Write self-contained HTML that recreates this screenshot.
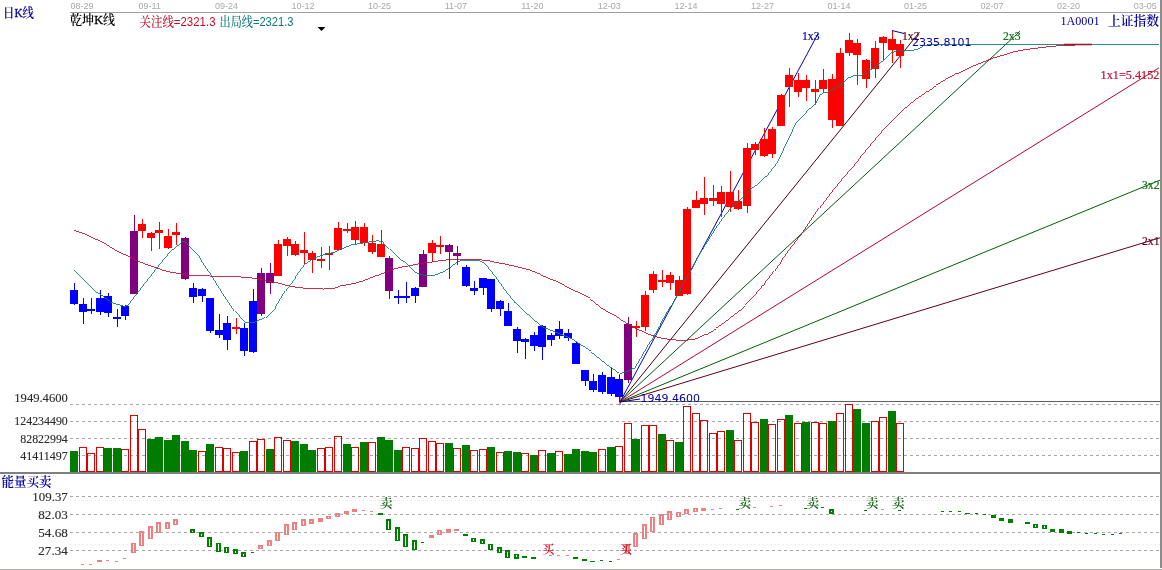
<!DOCTYPE html>
<html lang="zh"><head><meta charset="utf-8"><title>日K线 上证指数</title>
<style>
html,body{margin:0;padding:0;background:#fff;}
body{width:1162px;height:570px;overflow:hidden;position:relative;}
svg{position:absolute;left:0;top:0;display:block;}
.song{font-family:"Liberation Serif","Noto Serif CJK SC",serif;}
.ax{font-family:"Liberation Serif","Noto Serif CJK SC",serif;font-size:12px;fill:#2a2a2a;stroke:#2a2a2a;stroke-width:0.12px;}
.dt{font-family:"Liberation Sans",sans-serif;font-size:9px;fill:#a8a8a8;}
.vd{font-family:"DejaVu Sans","Liberation Sans",sans-serif;font-size:11px;}
.crisp{shape-rendering:crispEdges;}
</style></head><body>
<svg width="1162" height="570" viewBox="0 0 1162 570">

<g class="crisp">
<rect x="70" y="12" width="1090" height="1" fill="#a0a0a0"/>
<rect x="1160" y="0" width="2" height="568" fill="#8c8c8c"/>
<rect x="0" y="472" width="1160" height="2" fill="#808080"/>
<rect x="0" y="569" width="1162" height="1" fill="#b0b0ac"/>
</g>
<g class="crisp" stroke="#a8a8a8" stroke-width="1" stroke-dasharray="3,3">
<line x1="70" y1="404.5" x2="1160" y2="404.5"/>
<line x1="70" y1="421.5" x2="1160" y2="421.5"/>
<line x1="70" y1="438.5" x2="1160" y2="438.5"/>
<line x1="70" y1="455.5" x2="1160" y2="455.5"/>
<line x1="70" y1="496.5" x2="1160" y2="496.5"/>
<line x1="70" y1="514.5" x2="1160" y2="514.5"/>
<line x1="70" y1="532.5" x2="1160" y2="532.5"/>
<line x1="70" y1="550.5" x2="1160" y2="550.5"/>
</g>
<g class="crisp" stroke="#efefef" stroke-width="1" stroke-dasharray="2,2">
<line x1="70" y1="450.5" x2="1160" y2="450.5"/>
<line x1="70" y1="500.5" x2="1160" y2="500.5"/>
<line x1="70" y1="544.5" x2="1160" y2="544.5"/>
</g>
<g class="crisp">
<rect x="70" y="451.0" width="8" height="21.0" fill="#007c00"/>
<rect x="79.5" y="447.5" width="7" height="24.0" fill="none" stroke="#dc0000" stroke-width="1"/>
<rect x="87.5" y="453.5" width="7" height="18.0" fill="none" stroke="#dc0000" stroke-width="1"/>
<rect x="96.5" y="447.5" width="7" height="24.0" fill="none" stroke="#dc0000" stroke-width="1"/>
<rect x="104" y="448.0" width="8" height="24.0" fill="#007c00"/>
<rect x="113" y="448.0" width="8" height="24.0" fill="#007c00"/>
<rect x="121.5" y="449.5" width="7" height="22.0" fill="none" stroke="#dc0000" stroke-width="1"/>
<rect x="130.5" y="415.5" width="7" height="56.0" fill="none" stroke="#dc0000" stroke-width="1"/>
<rect x="138.5" y="429.5" width="7" height="42.0" fill="none" stroke="#dc0000" stroke-width="1"/>
<rect x="147" y="439.0" width="8" height="33.0" fill="#007c00"/>
<rect x="155" y="437.0" width="8" height="35.0" fill="#007c00"/>
<rect x="164" y="439.5" width="8" height="32.5" fill="#007c00"/>
<rect x="172" y="435.0" width="8" height="37.0" fill="#007c00"/>
<rect x="181" y="441.0" width="8" height="31.0" fill="#007c00"/>
<rect x="189" y="450.0" width="8" height="22.0" fill="#007c00"/>
<rect x="198.5" y="451.5" width="7" height="20.0" fill="none" stroke="#dc0000" stroke-width="1"/>
<rect x="206" y="444.0" width="8" height="28.0" fill="#007c00"/>
<rect x="215.5" y="447.5" width="7" height="24.0" fill="none" stroke="#dc0000" stroke-width="1"/>
<rect x="223.5" y="448.8" width="7" height="22.7" fill="none" stroke="#dc0000" stroke-width="1"/>
<rect x="232.5" y="452.5" width="7" height="19.0" fill="none" stroke="#dc0000" stroke-width="1"/>
<rect x="240" y="451.0" width="8" height="21.0" fill="#007c00"/>
<rect x="249.5" y="441.5" width="7" height="30.0" fill="none" stroke="#dc0000" stroke-width="1"/>
<rect x="257.5" y="439.5" width="7" height="32.0" fill="none" stroke="#dc0000" stroke-width="1"/>
<rect x="266" y="449.0" width="8" height="23.0" fill="#007c00"/>
<rect x="274.5" y="437.5" width="7" height="34.0" fill="none" stroke="#dc0000" stroke-width="1"/>
<rect x="283.5" y="440.5" width="7" height="31.0" fill="none" stroke="#dc0000" stroke-width="1"/>
<rect x="291" y="441.0" width="8" height="31.0" fill="#007c00"/>
<rect x="300" y="444.0" width="8" height="28.0" fill="#007c00"/>
<rect x="308" y="450.0" width="8" height="22.0" fill="#007c00"/>
<rect x="317.5" y="448.8" width="7" height="22.7" fill="none" stroke="#dc0000" stroke-width="1"/>
<rect x="325.5" y="447.5" width="7" height="24.0" fill="none" stroke="#dc0000" stroke-width="1"/>
<rect x="334.5" y="436.5" width="7" height="35.0" fill="none" stroke="#dc0000" stroke-width="1"/>
<rect x="343" y="444.0" width="8" height="28.0" fill="#007c00"/>
<rect x="351.5" y="447.5" width="7" height="24.0" fill="none" stroke="#dc0000" stroke-width="1"/>
<rect x="360" y="442.0" width="8" height="30.0" fill="#007c00"/>
<rect x="368.5" y="442.5" width="7" height="29.0" fill="none" stroke="#dc0000" stroke-width="1"/>
<rect x="377" y="437.0" width="8" height="35.0" fill="#007c00"/>
<rect x="385" y="440.0" width="8" height="32.0" fill="#007c00"/>
<rect x="394" y="450.0" width="8" height="22.0" fill="#007c00"/>
<rect x="402.5" y="447.5" width="7" height="24.0" fill="none" stroke="#dc0000" stroke-width="1"/>
<rect x="411.5" y="448.5" width="7" height="23.0" fill="none" stroke="#dc0000" stroke-width="1"/>
<rect x="419.5" y="438.5" width="7" height="33.0" fill="none" stroke="#dc0000" stroke-width="1"/>
<rect x="428.5" y="441.5" width="7" height="30.0" fill="none" stroke="#dc0000" stroke-width="1"/>
<rect x="436.5" y="443.5" width="7" height="28.0" fill="none" stroke="#dc0000" stroke-width="1"/>
<rect x="445" y="443.0" width="8" height="29.0" fill="#007c00"/>
<rect x="453.5" y="448.5" width="7" height="23.0" fill="none" stroke="#dc0000" stroke-width="1"/>
<rect x="462" y="445.0" width="8" height="27.0" fill="#007c00"/>
<rect x="470.5" y="450.5" width="7" height="21.0" fill="none" stroke="#dc0000" stroke-width="1"/>
<rect x="479.5" y="449.5" width="7" height="22.0" fill="none" stroke="#dc0000" stroke-width="1"/>
<rect x="487" y="447.0" width="8" height="25.0" fill="#007c00"/>
<rect x="496.5" y="452.5" width="7" height="19.0" fill="none" stroke="#dc0000" stroke-width="1"/>
<rect x="504" y="451.0" width="8" height="21.0" fill="#007c00"/>
<rect x="513" y="452.0" width="8" height="20.0" fill="#007c00"/>
<rect x="521.5" y="453.5" width="7" height="18.0" fill="none" stroke="#dc0000" stroke-width="1"/>
<rect x="530" y="455.0" width="8" height="17.0" fill="#007c00"/>
<rect x="538.5" y="450.5" width="7" height="21.0" fill="none" stroke="#dc0000" stroke-width="1"/>
<rect x="547" y="453.0" width="8" height="19.0" fill="#007c00"/>
<rect x="555.5" y="451.5" width="7" height="20.0" fill="none" stroke="#dc0000" stroke-width="1"/>
<rect x="564" y="454.0" width="8" height="18.0" fill="#007c00"/>
<rect x="572" y="449.0" width="8" height="23.0" fill="#007c00"/>
<rect x="581" y="451.0" width="8" height="21.0" fill="#007c00"/>
<rect x="589" y="452.0" width="8" height="20.0" fill="#007c00"/>
<rect x="598.5" y="449.5" width="7" height="22.0" fill="none" stroke="#dc0000" stroke-width="1"/>
<rect x="607" y="447.0" width="8" height="25.0" fill="#007c00"/>
<rect x="615.5" y="446.5" width="7" height="25.0" fill="none" stroke="#dc0000" stroke-width="1"/>
<rect x="624.5" y="423.5" width="7" height="48.0" fill="none" stroke="#dc0000" stroke-width="1"/>
<rect x="632" y="439.0" width="8" height="33.0" fill="#007c00"/>
<rect x="641.5" y="425.5" width="7" height="46.0" fill="none" stroke="#dc0000" stroke-width="1"/>
<rect x="649.5" y="425.5" width="7" height="46.0" fill="none" stroke="#dc0000" stroke-width="1"/>
<rect x="658" y="434.0" width="8" height="38.0" fill="#007c00"/>
<rect x="666.5" y="440.5" width="7" height="31.0" fill="none" stroke="#dc0000" stroke-width="1"/>
<rect x="675" y="442.0" width="8" height="30.0" fill="#007c00"/>
<rect x="683.5" y="406.5" width="7" height="65.0" fill="none" stroke="#dc0000" stroke-width="1"/>
<rect x="692.5" y="413.5" width="7" height="58.0" fill="none" stroke="#dc0000" stroke-width="1"/>
<rect x="700.5" y="420.5" width="7" height="51.0" fill="none" stroke="#dc0000" stroke-width="1"/>
<rect x="709.5" y="433.5" width="7" height="38.0" fill="none" stroke="#dc0000" stroke-width="1"/>
<rect x="717.5" y="431.5" width="7" height="40.0" fill="none" stroke="#dc0000" stroke-width="1"/>
<rect x="726" y="430.0" width="8" height="42.0" fill="#007c00"/>
<rect x="734.5" y="440.5" width="7" height="31.0" fill="none" stroke="#dc0000" stroke-width="1"/>
<rect x="743.5" y="413.5" width="7" height="58.0" fill="none" stroke="#dc0000" stroke-width="1"/>
<rect x="751.5" y="422.5" width="7" height="49.0" fill="none" stroke="#dc0000" stroke-width="1"/>
<rect x="760" y="419.0" width="8" height="53.0" fill="#007c00"/>
<rect x="768.5" y="424.5" width="7" height="47.0" fill="none" stroke="#dc0000" stroke-width="1"/>
<rect x="777.5" y="419.5" width="7" height="52.0" fill="none" stroke="#dc0000" stroke-width="1"/>
<rect x="785" y="415.0" width="8" height="57.0" fill="#007c00"/>
<rect x="794.5" y="423.5" width="7" height="48.0" fill="none" stroke="#dc0000" stroke-width="1"/>
<rect x="802" y="422.0" width="8" height="50.0" fill="#007c00"/>
<rect x="811.5" y="422.5" width="7" height="49.0" fill="none" stroke="#dc0000" stroke-width="1"/>
<rect x="819.5" y="423.5" width="7" height="48.0" fill="none" stroke="#dc0000" stroke-width="1"/>
<rect x="828" y="421.0" width="8" height="51.0" fill="#007c00"/>
<rect x="836.5" y="413.5" width="7" height="58.0" fill="none" stroke="#dc0000" stroke-width="1"/>
<rect x="845.5" y="404.5" width="7" height="67.0" fill="none" stroke="#dc0000" stroke-width="1"/>
<rect x="853" y="409.0" width="8" height="63.0" fill="#007c00"/>
<rect x="862" y="423.0" width="8" height="49.0" fill="#007c00"/>
<rect x="871.5" y="421.5" width="7" height="50.0" fill="none" stroke="#dc0000" stroke-width="1"/>
<rect x="879.5" y="417.5" width="7" height="54.0" fill="none" stroke="#dc0000" stroke-width="1"/>
<rect x="888" y="411.0" width="8" height="61.0" fill="#007c00"/>
<rect x="896.5" y="423.5" width="7" height="48.0" fill="none" stroke="#dc0000" stroke-width="1"/>
</g>
<g class="crisp">
<rect x="81" y="564.4" width="3" height="1" fill="#f08080"/>
<rect x="89" y="563.6" width="3" height="1" fill="#f08080"/>
<rect x="97" y="560.4" width="5" height="2.0" fill="#f08080"/>
<rect x="106" y="560.4" width="3" height="1" fill="#f08080"/>
<rect x="115" y="561.0" width="3" height="1" fill="#f08080"/>
<rect x="123" y="558.1" width="3" height="1" fill="#f08080"/>
<rect x="131" y="543.1" width="5" height="10.0" fill="#f08080"/>
<rect x="133" y="544.4" width="1" height="7.4" fill="#fff"/>
<rect x="139" y="531.2" width="5" height="14.9" fill="#f08080"/>
<rect x="141" y="532.5" width="1" height="12.3" fill="#fff"/>
<rect x="148" y="526.2" width="5" height="13.0" fill="#f08080"/>
<rect x="150" y="527.5" width="1" height="10.4" fill="#fff"/>
<rect x="156" y="522.4" width="5" height="10.8" fill="#f08080"/>
<rect x="158" y="523.7" width="1" height="8.2" fill="#fff"/>
<rect x="165" y="522.4" width="5" height="7.0" fill="#f08080"/>
<rect x="167" y="523.7" width="1" height="4.4" fill="#fff"/>
<rect x="173" y="519.4" width="5" height="6.0" fill="#f08080"/>
<rect x="175" y="520.7" width="1" height="3.4" fill="#fff"/>
<rect x="190" y="529.2" width="5" height="4.0" fill="#008000"/>
<rect x="192" y="530.5" width="1" height="1.4" fill="#fff"/>
<rect x="199" y="532.4" width="5" height="5.0" fill="#008000"/>
<rect x="201" y="533.7" width="1" height="2.4" fill="#fff"/>
<rect x="207" y="537.4" width="5" height="10.0" fill="#008000"/>
<rect x="209" y="538.7" width="1" height="7.4" fill="#fff"/>
<rect x="216" y="543.1" width="5" height="8.8" fill="#008000"/>
<rect x="218" y="544.4" width="1" height="6.2" fill="#fff"/>
<rect x="224" y="546.6" width="5" height="6.5" fill="#008000"/>
<rect x="226" y="547.9" width="1" height="3.9" fill="#fff"/>
<rect x="233" y="549.4" width="5" height="5.0" fill="#008000"/>
<rect x="235" y="550.7" width="1" height="2.4" fill="#fff"/>
<rect x="241" y="552.4" width="5" height="5.0" fill="#008000"/>
<rect x="243" y="553.7" width="1" height="2.4" fill="#fff"/>
<rect x="251" y="551.6" width="3" height="1" fill="#008000"/>
<rect x="258" y="545.4" width="5" height="4.0" fill="#f08080"/>
<rect x="260" y="546.7" width="1" height="1.4" fill="#fff"/>
<rect x="267" y="540.4" width="5" height="5.7" fill="#f08080"/>
<rect x="269" y="541.7" width="1" height="3.1" fill="#fff"/>
<rect x="275" y="531.7" width="5" height="9.4" fill="#f08080"/>
<rect x="277" y="533.0" width="1" height="6.8" fill="#fff"/>
<rect x="284" y="524.4" width="5" height="10.5" fill="#f08080"/>
<rect x="286" y="525.7" width="1" height="7.9" fill="#fff"/>
<rect x="292" y="522.4" width="5" height="8.0" fill="#f08080"/>
<rect x="294" y="523.7" width="1" height="5.4" fill="#fff"/>
<rect x="301" y="519.4" width="5" height="6.8" fill="#f08080"/>
<rect x="303" y="520.7" width="1" height="4.2" fill="#fff"/>
<rect x="309" y="519.4" width="5" height="4.3" fill="#f08080"/>
<rect x="311" y="520.7" width="1" height="1.7" fill="#fff"/>
<rect x="318" y="518.2" width="5" height="3.5" fill="#f08080"/>
<rect x="326" y="515.7" width="5" height="3.7" fill="#f08080"/>
<rect x="328" y="517.0" width="1" height="1.1" fill="#fff"/>
<rect x="335" y="513.2" width="5" height="4.2" fill="#f08080"/>
<rect x="337" y="514.5" width="1" height="1.6" fill="#fff"/>
<rect x="344" y="511.2" width="5" height="3.2" fill="#f08080"/>
<rect x="352" y="509.2" width="5" height="2.8" fill="#f08080"/>
<rect x="362" y="510.0" width="3" height="1" fill="#f08080"/>
<rect x="370" y="510.6" width="3" height="1" fill="#f08080"/>
<rect x="378" y="513.2" width="5" height="1.8" fill="#008000"/>
<rect x="386" y="519.4" width="5" height="11.0" fill="#008000"/>
<rect x="388" y="520.7" width="1" height="8.4" fill="#fff"/>
<rect x="395" y="527.4" width="5" height="13.8" fill="#008000"/>
<rect x="397" y="528.7" width="1" height="11.2" fill="#fff"/>
<rect x="403" y="534.2" width="5" height="13.2" fill="#008000"/>
<rect x="405" y="535.5" width="1" height="10.6" fill="#fff"/>
<rect x="412" y="540.4" width="5" height="10.0" fill="#008000"/>
<rect x="414" y="541.7" width="1" height="7.4" fill="#fff"/>
<rect x="421" y="542.0" width="3" height="1" fill="#008000"/>
<rect x="429" y="534.9" width="5" height="3.3" fill="#f08080"/>
<rect x="437" y="529.9" width="5" height="5.0" fill="#f08080"/>
<rect x="439" y="531.2" width="1" height="2.4" fill="#fff"/>
<rect x="446" y="529.4" width="5" height="3.5" fill="#f08080"/>
<rect x="454" y="529.4" width="5" height="1.8" fill="#f08080"/>
<rect x="463" y="534.4" width="5" height="1.8" fill="#008000"/>
<rect x="471" y="537.9" width="5" height="4.5" fill="#008000"/>
<rect x="473" y="539.2" width="1" height="1.9" fill="#fff"/>
<rect x="480" y="539.4" width="5" height="5.0" fill="#008000"/>
<rect x="482" y="540.7" width="1" height="2.4" fill="#fff"/>
<rect x="488" y="543.6" width="5" height="6.8" fill="#008000"/>
<rect x="490" y="544.9" width="1" height="4.2" fill="#fff"/>
<rect x="497" y="547.4" width="5" height="5.5" fill="#008000"/>
<rect x="499" y="548.7" width="1" height="2.9" fill="#fff"/>
<rect x="505" y="550.4" width="5" height="7.5" fill="#008000"/>
<rect x="507" y="551.7" width="1" height="4.9" fill="#fff"/>
<rect x="514" y="553.6" width="5" height="5.0" fill="#008000"/>
<rect x="516" y="554.9" width="1" height="2.4" fill="#fff"/>
<rect x="522" y="555.6" width="5" height="2.3" fill="#008000"/>
<rect x="531" y="556.6" width="5" height="2.0" fill="#008000"/>
<rect x="549" y="555.4" width="3" height="1" fill="#f08080"/>
<rect x="557" y="555.2" width="3" height="1" fill="#f08080"/>
<rect x="566" y="555.2" width="3" height="1" fill="#f08080"/>
<rect x="573" y="557.4" width="5" height="1.6" fill="#008000"/>
<rect x="582" y="558.6" width="5" height="2.0" fill="#008000"/>
<rect x="590" y="560.6" width="5" height="1.8" fill="#008000"/>
<rect x="600" y="559.6" width="3" height="1" fill="#008000"/>
<rect x="609" y="561.4" width="3" height="1" fill="#008000"/>
<rect x="617" y="559.4" width="3" height="1" fill="#f08080"/>
<rect x="625" y="544.4" width="5" height="10.0" fill="#f08080"/>
<rect x="627" y="545.7" width="1" height="7.4" fill="#fff"/>
<rect x="633" y="533.2" width="5" height="14.2" fill="#f08080"/>
<rect x="635" y="534.5" width="1" height="11.6" fill="#fff"/>
<rect x="642" y="524.4" width="5" height="14.8" fill="#f08080"/>
<rect x="644" y="525.7" width="1" height="12.2" fill="#fff"/>
<rect x="650" y="517.0" width="5" height="15.4" fill="#f08080"/>
<rect x="652" y="518.3" width="1" height="12.8" fill="#fff"/>
<rect x="659" y="514.4" width="5" height="11.0" fill="#f08080"/>
<rect x="661" y="515.7" width="1" height="8.4" fill="#fff"/>
<rect x="667" y="511.4" width="5" height="9.0" fill="#f08080"/>
<rect x="669" y="512.7" width="1" height="6.4" fill="#fff"/>
<rect x="676" y="512.0" width="5" height="5.4" fill="#f08080"/>
<rect x="678" y="513.3" width="1" height="2.8" fill="#fff"/>
<rect x="684" y="509.2" width="5" height="5.2" fill="#f08080"/>
<rect x="686" y="510.5" width="1" height="2.6" fill="#fff"/>
<rect x="693" y="508.0" width="5" height="4.4" fill="#f08080"/>
<rect x="695" y="509.3" width="1" height="1.8" fill="#fff"/>
<rect x="701" y="508.4" width="5" height="2.3" fill="#f08080"/>
<rect x="711" y="508.8" width="3" height="1" fill="#f08080"/>
<rect x="719" y="508.0" width="3" height="1" fill="#f08080"/>
<rect x="736" y="508.8" width="3" height="1" fill="#008000"/>
<rect x="753" y="506.8" width="3" height="1" fill="#f08080"/>
<rect x="770" y="505.5" width="3" height="1" fill="#f08080"/>
<rect x="779" y="505.3" width="3" height="1" fill="#f08080"/>
<rect x="804" y="507.8" width="3" height="1" fill="#008000"/>
<rect x="821" y="506.8" width="3" height="1" fill="#008000"/>
<rect x="829" y="509.2" width="5" height="4.5" fill="#008000"/>
<rect x="831" y="510.5" width="1" height="1.9" fill="#fff"/>
<rect x="864" y="509.8" width="3" height="1" fill="#008000"/>
<rect x="881" y="508.8" width="3" height="1" fill="#f08080"/>
<rect x="898" y="509.6" width="3" height="1" fill="#008000"/>
<rect x="941" y="511.0" width="3" height="1" fill="#008000"/>
<rect x="949" y="511.0" width="3" height="1" fill="#008000"/>
<rect x="958" y="511.0" width="3" height="1" fill="#008000"/>
<rect x="965" y="512.5" width="5" height="1.6" fill="#008000"/>
<rect x="975" y="513.2" width="3" height="1" fill="#008000"/>
<rect x="983" y="514.3" width="3" height="1" fill="#008000"/>
<rect x="991" y="515.0" width="5" height="2.7" fill="#008000"/>
<rect x="999" y="517.7" width="5" height="2.9" fill="#008000"/>
<rect x="1008" y="519.3" width="5" height="3.4" fill="#008000"/>
<rect x="1025" y="521.5" width="5" height="2.3" fill="#008000"/>
<rect x="1033" y="523.8" width="5" height="4.0" fill="#008000"/>
<rect x="1035" y="525.1" width="1" height="1.4" fill="#fff"/>
<rect x="1042" y="525.1" width="5" height="3.9" fill="#008000"/>
<rect x="1044" y="526.4" width="1" height="1.3" fill="#fff"/>
<rect x="1050" y="528.5" width="5" height="3.2" fill="#008000"/>
<rect x="1059" y="529.4" width="5" height="3.4" fill="#008000"/>
<rect x="1067" y="531.4" width="5" height="2.3" fill="#008000"/>
<rect x="1077" y="532.4" width="3" height="1" fill="#008000"/>
<rect x="1085" y="532.6" width="3" height="1" fill="#008000"/>
<rect x="1094" y="533.1" width="3" height="1" fill="#008000"/>
<rect x="1102" y="533.5" width="3" height="1" fill="#008000"/>
<rect x="1111" y="533.8" width="3" height="1" fill="#008000"/>
<rect x="1119" y="533.3" width="3" height="1" fill="#008000"/>
</g>
<g>
<line x1="620" y1="401.5" x2="1160" y2="401.5" stroke="#606060" stroke-width="1" class="crisp"/>
<line x1="620" y1="402" x2="1160.0" y2="237.8" stroke="#600018" stroke-width="1"/>
<line x1="620" y1="402" x2="1160.0" y2="180.1" stroke="#006000" stroke-width="1"/>
<line x1="620" y1="402" x2="1159.0" y2="67.8" stroke="#b80030" stroke-width="1"/>
<line x1="620" y1="402" x2="1020.0" y2="31.2" stroke="#005818" stroke-width="1"/>
<line x1="620" y1="402" x2="919.5" y2="32.1" stroke="#400010" stroke-width="1"/>
<line x1="620" y1="402" x2="818.0" y2="33.7" stroke="#0000c8" stroke-width="1"/>
</g>
<g class="crisp">
<rect x="74" y="283.0" width="1" height="22.0" fill="#0000ff"/>
<rect x="70" y="290.0" width="8" height="14.0" fill="#0000ff"/>
<rect x="83" y="297.5" width="1" height="26.5" fill="#0000ff"/>
<rect x="79" y="304.0" width="8" height="8.0" fill="#0000ff"/>
<rect x="91" y="298.0" width="1" height="16.0" fill="#0000ff"/>
<rect x="87" y="309.0" width="8" height="2.0" fill="#0000ff"/>
<rect x="100" y="290.0" width="1" height="25.0" fill="#0000ff"/>
<rect x="96" y="298.0" width="8" height="14.0" fill="#0000ff"/>
<rect x="108" y="293.0" width="1" height="24.0" fill="#0000ff"/>
<rect x="104" y="296.0" width="8" height="17.0" fill="#0000ff"/>
<rect x="117" y="309.0" width="1" height="18.0" fill="#0000ff"/>
<rect x="113" y="317.0" width="8" height="2.0" fill="#0000ff"/>
<rect x="125" y="304.5" width="1" height="15.5" fill="#0000ff"/>
<rect x="121" y="305.5" width="8" height="10.5" fill="#0000ff"/>
<rect x="134" y="215.0" width="1" height="79.0" fill="#800080"/>
<rect x="130" y="231.0" width="8" height="63.0" fill="#800080"/>
<rect x="142" y="219.0" width="1" height="19.0" fill="#ff0000"/>
<rect x="138" y="224.0" width="8" height="7.0" fill="#ff0000"/>
<rect x="151" y="232.0" width="1" height="18.5" fill="#ff0000"/>
<rect x="147" y="232.5" width="8" height="5.5" fill="#ff0000"/>
<rect x="159" y="222.0" width="1" height="27.0" fill="#ff0000"/>
<rect x="155" y="230.0" width="8" height="3.0" fill="#ff0000"/>
<rect x="168" y="229.0" width="1" height="19.5" fill="#ff0000"/>
<rect x="164" y="235.5" width="8" height="12.5" fill="#ff0000"/>
<rect x="176" y="223.0" width="1" height="21.5" fill="#ff0000"/>
<rect x="172" y="232.0" width="8" height="3.0" fill="#ff0000"/>
<rect x="185" y="237.0" width="1" height="42.5" fill="#800080"/>
<rect x="181" y="238.0" width="8" height="41.0" fill="#800080"/>
<rect x="193" y="283.0" width="1" height="20.0" fill="#0000ff"/>
<rect x="189" y="288.0" width="8" height="9.0" fill="#0000ff"/>
<rect x="202" y="287.5" width="1" height="14.5" fill="#0000ff"/>
<rect x="198" y="289.0" width="8" height="7.0" fill="#0000ff"/>
<rect x="210" y="297.5" width="1" height="35.5" fill="#0000ff"/>
<rect x="206" y="297.5" width="8" height="33.5" fill="#0000ff"/>
<rect x="219" y="314.0" width="1" height="23.5" fill="#0000ff"/>
<rect x="215" y="329.5" width="8" height="5.5" fill="#0000ff"/>
<rect x="227" y="316.0" width="1" height="34.0" fill="#0000ff"/>
<rect x="223" y="323.0" width="8" height="16.5" fill="#0000ff"/>
<rect x="236" y="317.5" width="1" height="16.5" fill="#ff0000"/>
<rect x="232" y="327.0" width="8" height="2.0" fill="#ff0000"/>
<rect x="244" y="323.0" width="1" height="33.0" fill="#0000ff"/>
<rect x="240" y="328.0" width="8" height="23.0" fill="#0000ff"/>
<rect x="253" y="289.0" width="1" height="64.0" fill="#0000ff"/>
<rect x="249" y="301.0" width="8" height="51.0" fill="#0000ff"/>
<rect x="261" y="268.0" width="1" height="48.0" fill="#800080"/>
<rect x="257" y="272.5" width="8" height="41.5" fill="#800080"/>
<rect x="270" y="262.5" width="1" height="31.5" fill="#800080"/>
<rect x="266" y="273.0" width="8" height="9.5" fill="#800080"/>
<rect x="278" y="240.0" width="1" height="35.5" fill="#ff0000"/>
<rect x="274" y="244.0" width="8" height="31.5" fill="#ff0000"/>
<rect x="287" y="237.0" width="1" height="18.5" fill="#ff0000"/>
<rect x="283" y="239.0" width="8" height="7.0" fill="#ff0000"/>
<rect x="295" y="241.0" width="1" height="15.0" fill="#ff0000"/>
<rect x="291" y="244.0" width="8" height="10.5" fill="#ff0000"/>
<rect x="304" y="232.0" width="1" height="32.0" fill="#ff0000"/>
<rect x="300" y="249.5" width="8" height="3.0" fill="#ff0000"/>
<rect x="312" y="251.0" width="1" height="21.5" fill="#ff0000"/>
<rect x="308" y="253.0" width="8" height="6.5" fill="#ff0000"/>
<rect x="321" y="247.0" width="1" height="20.5" fill="#ff0000"/>
<rect x="317" y="259.0" width="8" height="2.0" fill="#ff0000"/>
<rect x="329" y="246.0" width="1" height="24.0" fill="#ff0000"/>
<rect x="325" y="252.5" width="8" height="2.0" fill="#ff0000"/>
<rect x="338" y="222.0" width="1" height="27.5" fill="#ff0000"/>
<rect x="334" y="228.0" width="8" height="21.5" fill="#ff0000"/>
<rect x="347" y="222.5" width="1" height="10.0" fill="#ff0000"/>
<rect x="343" y="229.0" width="8" height="2.0" fill="#ff0000"/>
<rect x="355" y="221.0" width="1" height="24.0" fill="#ff0000"/>
<rect x="351" y="227.0" width="8" height="12.5" fill="#ff0000"/>
<rect x="364" y="223.0" width="1" height="23.0" fill="#ff0000"/>
<rect x="360" y="227.0" width="8" height="15.5" fill="#ff0000"/>
<rect x="372" y="235.0" width="1" height="19.0" fill="#ff0000"/>
<rect x="368" y="242.5" width="8" height="9.5" fill="#ff0000"/>
<rect x="381" y="230.0" width="1" height="27.0" fill="#ff0000"/>
<rect x="377" y="244.0" width="8" height="13.0" fill="#ff0000"/>
<rect x="389" y="256.0" width="1" height="43.0" fill="#800080"/>
<rect x="385" y="258.0" width="8" height="33.0" fill="#800080"/>
<rect x="398" y="289.5" width="1" height="14.5" fill="#0000ff"/>
<rect x="394" y="295.5" width="8" height="2.0" fill="#0000ff"/>
<rect x="406" y="282.0" width="1" height="20.5" fill="#0000ff"/>
<rect x="402" y="295.5" width="8" height="2.0" fill="#0000ff"/>
<rect x="415" y="287.0" width="1" height="15.5" fill="#0000ff"/>
<rect x="411" y="288.0" width="8" height="8.0" fill="#0000ff"/>
<rect x="423" y="249.5" width="1" height="37.5" fill="#800080"/>
<rect x="419" y="254.0" width="8" height="33.0" fill="#800080"/>
<rect x="432" y="240.0" width="1" height="22.0" fill="#ff0000"/>
<rect x="428" y="242.5" width="8" height="10.0" fill="#ff0000"/>
<rect x="440" y="236.0" width="1" height="18.0" fill="#ff0000"/>
<rect x="436" y="245.0" width="8" height="2.0" fill="#ff0000"/>
<rect x="449" y="244.0" width="1" height="35.0" fill="#800080"/>
<rect x="445" y="245.0" width="8" height="7.0" fill="#800080"/>
<rect x="457" y="246.0" width="1" height="19.0" fill="#800080"/>
<rect x="453" y="253.0" width="8" height="3.0" fill="#800080"/>
<rect x="466" y="265.0" width="1" height="22.0" fill="#0000ff"/>
<rect x="462" y="267.0" width="8" height="18.5" fill="#0000ff"/>
<rect x="474" y="280.5" width="1" height="14.5" fill="#0000ff"/>
<rect x="470" y="288.0" width="8" height="3.0" fill="#0000ff"/>
<rect x="483" y="278.0" width="1" height="17.0" fill="#0000ff"/>
<rect x="479" y="278.0" width="8" height="10.0" fill="#0000ff"/>
<rect x="491" y="279.0" width="1" height="33.0" fill="#0000ff"/>
<rect x="487" y="279.0" width="8" height="30.0" fill="#0000ff"/>
<rect x="500" y="300.0" width="1" height="16.0" fill="#0000ff"/>
<rect x="496" y="301.0" width="8" height="8.0" fill="#0000ff"/>
<rect x="508" y="303.0" width="1" height="23.0" fill="#0000ff"/>
<rect x="504" y="311.0" width="8" height="15.0" fill="#0000ff"/>
<rect x="517" y="327.0" width="1" height="25.5" fill="#0000ff"/>
<rect x="513" y="329.0" width="8" height="11.5" fill="#0000ff"/>
<rect x="525" y="337.5" width="1" height="21.5" fill="#0000ff"/>
<rect x="521" y="339.0" width="8" height="2.5" fill="#0000ff"/>
<rect x="534" y="332.0" width="1" height="18.5" fill="#0000ff"/>
<rect x="530" y="335.0" width="8" height="11.0" fill="#0000ff"/>
<rect x="542" y="325.0" width="1" height="35.0" fill="#0000ff"/>
<rect x="538" y="326.0" width="8" height="21.0" fill="#0000ff"/>
<rect x="551" y="333.0" width="1" height="13.0" fill="#0000ff"/>
<rect x="547" y="335.0" width="8" height="4.5" fill="#0000ff"/>
<rect x="559" y="321.0" width="1" height="18.0" fill="#0000ff"/>
<rect x="555" y="329.0" width="8" height="7.0" fill="#0000ff"/>
<rect x="568" y="329.0" width="1" height="12.0" fill="#0000ff"/>
<rect x="564" y="332.5" width="8" height="5.0" fill="#0000ff"/>
<rect x="576" y="341.5" width="1" height="22.0" fill="#0000ff"/>
<rect x="572" y="343.0" width="8" height="20.5" fill="#0000ff"/>
<rect x="585" y="370.0" width="1" height="16.0" fill="#0000ff"/>
<rect x="581" y="370.0" width="8" height="10.5" fill="#0000ff"/>
<rect x="593" y="374.0" width="1" height="18.0" fill="#0000ff"/>
<rect x="589" y="381.0" width="8" height="9.0" fill="#0000ff"/>
<rect x="602" y="371.5" width="1" height="22.5" fill="#0000ff"/>
<rect x="598" y="374.5" width="8" height="17.0" fill="#0000ff"/>
<rect x="611" y="367.5" width="1" height="28.0" fill="#0000ff"/>
<rect x="607" y="377.0" width="8" height="16.5" fill="#0000ff"/>
<rect x="619" y="374.5" width="1" height="27.5" fill="#0000ff"/>
<rect x="615" y="379.0" width="8" height="17.5" fill="#0000ff"/>
<rect x="628" y="316.5" width="1" height="66.5" fill="#800080"/>
<rect x="624" y="324.0" width="8" height="56.0" fill="#800080"/>
<rect x="636" y="320.5" width="1" height="16.0" fill="#ff0000"/>
<rect x="632" y="326.0" width="8" height="2.0" fill="#ff0000"/>
<rect x="645" y="291.0" width="1" height="40.0" fill="#ff0000"/>
<rect x="641" y="295.0" width="8" height="31.5" fill="#ff0000"/>
<rect x="653" y="271.0" width="1" height="21.5" fill="#ff0000"/>
<rect x="649" y="274.0" width="8" height="15.5" fill="#ff0000"/>
<rect x="662" y="269.5" width="1" height="17.0" fill="#ff0000"/>
<rect x="658" y="280.0" width="8" height="2.0" fill="#ff0000"/>
<rect x="670" y="272.0" width="1" height="18.0" fill="#ff0000"/>
<rect x="666" y="275.0" width="8" height="8.0" fill="#ff0000"/>
<rect x="679" y="276.0" width="1" height="20.0" fill="#ff0000"/>
<rect x="675" y="280.0" width="8" height="16.0" fill="#ff0000"/>
<rect x="687" y="207.0" width="1" height="88.0" fill="#ff0000"/>
<rect x="683" y="209.0" width="8" height="84.5" fill="#ff0000"/>
<rect x="696" y="191.0" width="1" height="16.5" fill="#ff0000"/>
<rect x="692" y="200.0" width="8" height="7.5" fill="#ff0000"/>
<rect x="704" y="177.0" width="1" height="37.5" fill="#ff0000"/>
<rect x="700" y="198.0" width="8" height="5.5" fill="#ff0000"/>
<rect x="713" y="184.5" width="1" height="21.5" fill="#ff0000"/>
<rect x="709" y="198.0" width="8" height="2.5" fill="#ff0000"/>
<rect x="721" y="186.0" width="1" height="30.5" fill="#ff0000"/>
<rect x="717" y="192.0" width="8" height="11.5" fill="#ff0000"/>
<rect x="730" y="171.0" width="1" height="40.5" fill="#ff0000"/>
<rect x="726" y="191.5" width="8" height="15.0" fill="#ff0000"/>
<rect x="738" y="190.0" width="1" height="20.0" fill="#ff0000"/>
<rect x="734" y="201.0" width="8" height="8.0" fill="#ff0000"/>
<rect x="747" y="142.5" width="1" height="70.0" fill="#ff0000"/>
<rect x="743" y="148.0" width="8" height="58.0" fill="#ff0000"/>
<rect x="755" y="142.0" width="1" height="13.0" fill="#ff0000"/>
<rect x="751" y="143.5" width="8" height="6.0" fill="#ff0000"/>
<rect x="764" y="128.0" width="1" height="28.5" fill="#ff0000"/>
<rect x="760" y="139.0" width="8" height="16.5" fill="#ff0000"/>
<rect x="772" y="127.0" width="1" height="31.0" fill="#ff0000"/>
<rect x="768" y="129.0" width="8" height="25.0" fill="#ff0000"/>
<rect x="781" y="94.0" width="1" height="31.5" fill="#ff0000"/>
<rect x="777" y="95.0" width="8" height="30.5" fill="#ff0000"/>
<rect x="789" y="68.0" width="1" height="38.5" fill="#ff0000"/>
<rect x="785" y="75.0" width="8" height="11.5" fill="#ff0000"/>
<rect x="798" y="72.5" width="1" height="24.0" fill="#ff0000"/>
<rect x="794" y="79.5" width="8" height="12.0" fill="#ff0000"/>
<rect x="806" y="75.0" width="1" height="25.5" fill="#ff0000"/>
<rect x="802" y="80.0" width="8" height="7.5" fill="#ff0000"/>
<rect x="815" y="80.0" width="1" height="23.0" fill="#ff0000"/>
<rect x="811" y="89.0" width="8" height="2.5" fill="#ff0000"/>
<rect x="823" y="69.0" width="1" height="23.5" fill="#ff0000"/>
<rect x="819" y="80.0" width="8" height="8.5" fill="#ff0000"/>
<rect x="832" y="74.0" width="1" height="53.5" fill="#ff0000"/>
<rect x="828" y="79.0" width="8" height="41.0" fill="#ff0000"/>
<rect x="840" y="48.0" width="1" height="78.0" fill="#ff0000"/>
<rect x="836" y="53.0" width="8" height="73.0" fill="#ff0000"/>
<rect x="849" y="33.0" width="1" height="22.8" fill="#ff0000"/>
<rect x="845" y="40.0" width="8" height="12.7" fill="#ff0000"/>
<rect x="857" y="39.0" width="1" height="46.0" fill="#ff0000"/>
<rect x="853" y="43.0" width="8" height="12.0" fill="#ff0000"/>
<rect x="866" y="59.0" width="1" height="28.5" fill="#ff0000"/>
<rect x="862" y="60.0" width="8" height="18.5" fill="#ff0000"/>
<rect x="875" y="41.0" width="1" height="36.5" fill="#ff0000"/>
<rect x="871" y="48.0" width="8" height="20.5" fill="#ff0000"/>
<rect x="883" y="36.0" width="1" height="23.6" fill="#ff0000"/>
<rect x="879" y="37.2" width="8" height="6.2" fill="#ff0000"/>
<rect x="892" y="30.5" width="1" height="32.0" fill="#ff0000"/>
<rect x="888" y="39.0" width="8" height="10.5" fill="#ff0000"/>
<rect x="900" y="40.3" width="1" height="27.7" fill="#ff0000"/>
<rect x="896" y="44.2" width="8" height="11.5" fill="#ff0000"/>
</g>
<polyline class="crisp" fill="none" stroke="#c00c2c" stroke-width="0.85" points="74.0,230.5 85.0,234.0 97.5,240.0 110.0,247.0 122.5,254.0 135.0,260.0 147.5,265.0 160.0,269.5 172.5,272.5 185.0,275.0 197.5,275.8 210.0,276.0 222.5,276.0 235.0,276.5 247.5,277.5 260.0,279.5 272.5,282.0 285.0,285.0 297.5,287.5 310.0,288.8 322.5,289.0 335.0,288.0 340.0,286.0 352.5,283.8 365.0,280.0 377.5,275.0 390.0,270.0 402.5,266.8 415.0,264.5 427.5,262.5 440.0,260.5 452.5,259.5 465.0,259.2 477.5,259.5 490.0,261.2 502.5,263.8 515.0,266.2 527.5,269.5 540.0,274.5 552.5,280.0 565.0,286.0 577.5,292.0 590.0,298.8 600.8,307.7 610.5,313.5 620.1,319.3 629.8,325.1 639.4,330.0 649.1,334.4 658.7,337.6 667.9,339.2 677.6,340.2 687.2,340.2 696.9,338.8 706.5,334.0 716.2,328.2 725.8,321.4 735.5,313.7 745.1,305.0 754.8,295.0 764.4,283.5 774.1,271.0 781.5,260.5 789.0,250.0 803.0,232.0 818.9,208.0 832.1,190.5 845.3,174.5 858.4,159.5 868.6,147.2 878.3,135.6 887.9,124.9 897.6,115.2 907.2,106.4 916.9,98.7 926.5,91.9 936.2,85.1 945.8,79.3 955.5,73.9 965.1,69.7 974.8,65.4 984.4,61.5 994.5,57.5 1011.0,52.5 1027.5,49.2 1044.0,47.2 1060.5,45.6 1077.0,44.9 1092.0,44.5"/>
<polyline class="crisp" fill="none" stroke="#0c7878" stroke-width="0.85" points="74.0,270.5 85.0,281.0 97.5,293.0 110.0,302.0 118.0,304.5 124.5,306.3 128.5,304.5 135.0,296.0 147.5,280.0 160.0,264.0 172.5,249.0 182.5,241.0 187.5,244.0 200.0,257.5 210.0,272.5 222.5,292.5 235.0,311.0 245.0,322.0 255.0,322.0 265.0,317.5 275.0,307.5 285.0,291.0 295.0,277.5 305.0,264.0 315.0,257.5 325.0,254.5 335.0,252.0 340.0,249.5 352.5,244.5 365.0,242.5 377.5,240.8 383.8,242.5 390.0,248.8 402.5,261.0 415.0,272.5 425.0,275.5 435.0,275.0 445.0,271.0 455.0,263.8 460.0,261.0 470.0,260.5 477.5,260.5 485.0,263.8 495.0,276.0 505.0,290.0 515.0,302.5 523.6,310.6 533.3,319.3 543.0,327.0 552.6,331.0 562.2,334.7 571.9,338.6 581.5,345.4 591.2,352.1 600.8,359.8 610.5,367.6 619.2,374.3 627.6,371.0 635.0,367.9 638.0,362.6 641.9,356.0 650.0,342.0 660.0,324.5 670.0,307.0 680.0,289.5 691.0,270.0 696.9,258.5 706.5,243.0 716.2,227.6 725.8,214.0 735.5,203.4 745.1,194.7 750.9,189.0 756.7,185.1 761.8,180.0 767.6,175.2 777.2,162.7 786.9,142.4 796.5,122.1 806.2,111.5 815.7,104.0 820.0,95.0 824.5,92.2 828.9,91.9 834.8,88.5 842.2,83.3 848.0,78.2 853.9,75.7 861.3,75.2 867.2,72.3 873.1,67.9 879.0,64.2 884.9,59.0 890.8,53.1 896.6,50.9 902.5,50.9 911.4,50.9 918.7,48.7 924.6,45.3 932.0,44.5 1159.0,44.5"/>
<line x1="1064" y1="44.5" x2="1092" y2="44.5" stroke="#902030" stroke-width="1.6"/>
<polyline fill="none" stroke="#0000a0" stroke-width="1" points="892,30.5 904,33.5"/>
<line x1="620" y1="402" x2="640" y2="399" stroke="#0000a0" stroke-width="1.2"/>
<line x1="620" y1="396" x2="620" y2="405" stroke="#800030" stroke-width="1"/>
<text x="3" y="16.8" class="song" font-size="13" font-weight="600" fill="#0000a0" textLength="31" lengthAdjust="spacingAndGlyphs">日<tspan font-weight="400" stroke="#0000a0" stroke-width="0.3">K</tspan>线</text>
<text x="70" y="24.4" class="song" font-size="13" font-weight="600" fill="#000" textLength="45" lengthAdjust="spacingAndGlyphs">乾坤<tspan font-weight="400" stroke="#000" stroke-width="0.3">K</tspan>线</text>
<text x="139.5" y="26" font-size="13" font-weight="500" fill="#c00c28" textLength="76" lengthAdjust="spacingAndGlyphs" style="font-family:'Liberation Sans','Noto Serif CJK SC',sans-serif">关注线=2321.3</text>
<text x="219.5" y="26" font-size="13" font-weight="500" fill="#0c7878" textLength="74" lengthAdjust="spacingAndGlyphs" style="font-family:'Liberation Sans','Noto Serif CJK SC',sans-serif">出局线=2321.3</text>
<polygon points="317.5,27 325.5,27 321.5,31" fill="#000"/>
<text x="1060.5" y="25" class="song" font-size="13" fill="#0000a0" textLength="39" lengthAdjust="spacingAndGlyphs">1A0001</text>
<text x="1108" y="25" class="song" font-size="13" font-weight="600" fill="#0000a0" textLength="51" lengthAdjust="spacingAndGlyphs">上证指数</text>
<text x="1.5" y="486" class="song" font-size="13" font-weight="600" fill="#0000a0" textLength="50" lengthAdjust="spacingAndGlyphs">能量买卖</text>
<text x="70.5" y="9.2" class="dt">08-29</text>
<text x="138.5" y="9.2" class="dt">09-11</text>
<text x="215.1" y="9.2" class="dt">09-24</text>
<text x="291.6" y="9.2" class="dt">10-12</text>
<text x="368.1" y="9.2" class="dt">10-25</text>
<text x="444.7" y="9.2" class="dt">11-07</text>
<text x="521.2" y="9.2" class="dt">11-20</text>
<text x="597.8" y="9.2" class="dt">12-03</text>
<text x="674.4" y="9.2" class="dt">12-14</text>
<text x="750.9" y="9.2" class="dt">12-27</text>
<text x="827.4" y="9.2" class="dt">01-14</text>
<text x="904.0" y="9.2" class="dt">01-25</text>
<text x="980.5" y="9.2" class="dt">02-07</text>
<text x="1057.1" y="9.2" class="dt">02-20</text>
<text x="1133.7" y="9.2" class="dt">03-05</text>
<text x="14.3" y="402.2" class="ax" textLength="53.5" lengthAdjust="spacingAndGlyphs">1949.4600</text>
<text x="14.3" y="425.2" class="ax" textLength="53.5" lengthAdjust="spacingAndGlyphs">124234490</text>
<text x="20.3" y="442.7" class="ax" textLength="47.5" lengthAdjust="spacingAndGlyphs">82822994</text>
<text x="20.3" y="459.7" class="ax" textLength="47.5" lengthAdjust="spacingAndGlyphs">41411497</text>
<text x="32.3" y="501.2" class="ax" textLength="35.5" lengthAdjust="spacingAndGlyphs">109.37</text>
<text x="38.3" y="519.2" class="ax" textLength="29.5" lengthAdjust="spacingAndGlyphs">82.03</text>
<text x="38.3" y="537.2" class="ax" textLength="29.5" lengthAdjust="spacingAndGlyphs">54.68</text>
<text x="38.3" y="555.2" class="ax" textLength="29.5" lengthAdjust="spacingAndGlyphs">27.34</text>
<text x="802" y="40" class="song" font-size="12" fill="#0000a0" stroke="#0000a0" stroke-width="0.2" textLength="17.5" lengthAdjust="spacingAndGlyphs">1x3</text>
<text x="902" y="40" class="song" font-size="12" fill="#600018" stroke="#600018" stroke-width="0.2" textLength="17.5" lengthAdjust="spacingAndGlyphs">1x2</text>
<text x="1003" y="40" class="song" font-size="12" fill="#107010" stroke="#107010" stroke-width="0.2" textLength="17.5" lengthAdjust="spacingAndGlyphs">2x3</text>
<text x="1100.5" y="78.5" class="song" font-size="12" fill="#c01030" stroke="#c01030" stroke-width="0.2" textLength="59" lengthAdjust="spacingAndGlyphs">1x1=5.4152</text>
<text x="1142" y="189" class="song" font-size="12" fill="#107010" stroke="#107010" stroke-width="0.2" textLength="17.5" lengthAdjust="spacingAndGlyphs">3x2</text>
<text x="1142" y="245" class="song" font-size="12" fill="#700020" stroke="#700020" stroke-width="0.2" textLength="17.5" lengthAdjust="spacingAndGlyphs">2x1</text>
<text x="912" y="46" class="vd" fill="#0000a0">2335.8101</text>
<text x="640.5" y="401.5" class="vd" fill="#0000a0">1949.4600</text>
<text x="380.0" y="508" class="song" font-size="12.5" font-weight="600" fill="#156815">卖</text>
<text x="738.5" y="508" class="song" font-size="12.5" font-weight="600" fill="#156815">卖</text>
<text x="806.5" y="508" class="song" font-size="12.5" font-weight="600" fill="#156815">卖</text>
<text x="866.0" y="508" class="song" font-size="12.5" font-weight="600" fill="#156815">卖</text>
<text x="892.0" y="508" class="song" font-size="12.5" font-weight="600" fill="#156815">卖</text>
<text x="542.0" y="554" class="song" font-size="12.5" font-weight="600" fill="#d01828">买</text>
<text x="619.5" y="554" class="song" font-size="12.5" font-weight="600" fill="#d01828">买</text>
</svg></body></html>
